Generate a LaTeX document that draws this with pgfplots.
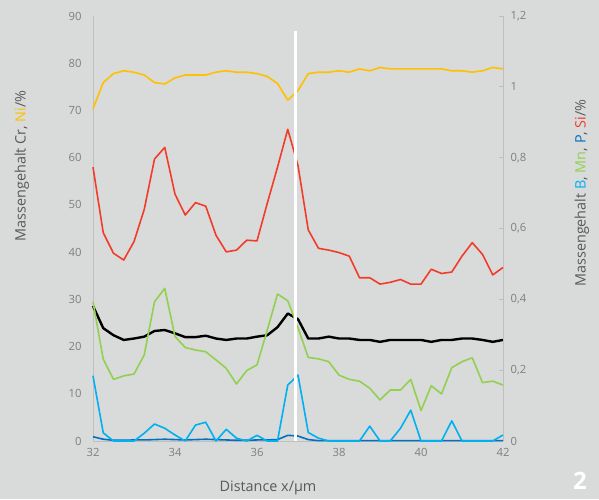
\documentclass[border=0pt]{standalone}
\usepackage{pgfplots}
\pgfplotsset{compat=1.18}
\usepackage{pgfplotstable}
\usepackage{fontspec}
\setmainfont{Open Sans}
\definecolor{bg}{HTML}{D9DADA}
\definecolor{axisgray}{HTML}{BFBFBF}
\definecolor{tickgray}{HTML}{7F7F7F}
\definecolor{labgray}{HTML}{595959}
\definecolor{niY}{HTML}{FFC000}
\definecolor{siR}{HTML}{F23C2A}
\definecolor{mnG}{HTML}{92D050}
\definecolor{bB}{HTML}{00B0F0}
\definecolor{pB}{HTML}{0070C0}

% x  Cr  Ni  (left axis, %)
\pgfplotstableread{
x Cr Ni
32.00 28.6 70.4
32.25 23.9 75.9
32.50 22.4 77.8
32.75 21.4 78.4
33.00 21.7 78.1
33.25 22.1 77.5
33.50 23.3 75.9
33.75 23.5 75.6
34.00 22.8 76.9
34.25 22.0 77.5
34.50 22.0 77.5
34.75 22.3 77.5
35.00 21.7 78.1
35.25 21.4 78.4
35.50 21.7 78.1
35.75 21.7 78.1
36.00 22.1 77.8
36.25 22.4 77.2
36.50 24.1 75.7
36.75 27.0 72.2
37.00 25.8 74.2
37.25 21.7 77.8
37.50 21.7 78.1
37.75 22.1 78.1
38.00 21.7 78.4
38.25 21.7 78.1
38.50 21.4 78.8
38.75 21.4 78.4
39.00 21.0 79.1
39.25 21.4 78.8
39.50 21.4 78.8
39.75 21.4 78.8
40.00 21.4 78.8
40.25 21.0 78.8
40.50 21.4 78.8
40.75 21.4 78.4
41.00 21.7 78.4
41.25 21.7 78.1
41.50 21.4 78.4
41.75 21.0 79.1
42.00 21.4 78.8
}\left

% x  Si  Mn  B  P  (right axis, %)
\pgfplotstableread{
x Si Mn B P
32.00 0.773 0.393 0.184 0.012
32.25 0.588 0.231 0.023 0.005
32.50 0.530 0.174 0.000 0.002
32.75 0.511 0.184 0.000 0.002
33.00 0.563 0.189 0.000 0.003
33.25 0.654 0.243 0.022 0.003
33.50 0.796 0.393 0.048 0.004
33.75 0.829 0.431 0.036 0.005
34.00 0.697 0.295 0.017 0.004
34.25 0.638 0.264 0.000 0.003
34.50 0.673 0.257 0.045 0.004
34.75 0.663 0.252 0.053 0.005
35.00 0.581 0.229 0.000 0.004
35.25 0.534 0.205 0.033 0.003
35.50 0.539 0.161 0.008 0.002
35.75 0.567 0.199 0.000 0.002
36.00 0.565 0.215 0.016 0.003
36.25 0.671 0.313 0.000 0.003
36.50 0.773 0.415 0.000 0.004
36.75 0.880 0.396 0.158 0.016
37.00 0.778 0.320 0.186 0.014
37.25 0.596 0.236 0.024 0.004
37.50 0.544 0.232 0.008 0.001
37.75 0.539 0.224 0.000 0.001
38.00 0.532 0.186 0.000 0.001
38.25 0.522 0.174 0.000 0.001
38.50 0.461 0.169 0.000 0.001
38.75 0.461 0.149 0.042 0.001
39.00 0.443 0.116 0.000 0.001
39.25 0.448 0.144 0.000 0.001
39.50 0.456 0.144 0.036 0.001
39.75 0.443 0.174 0.087 0.001
40.00 0.443 0.086 0.000 0.001
40.25 0.485 0.156 0.000 0.001
40.50 0.473 0.133 0.000 0.001
40.75 0.477 0.207 0.057 0.001
41.00 0.522 0.224 0.000 0.001
41.25 0.560 0.235 0.000 0.001
41.50 0.527 0.165 0.000 0.001
41.75 0.469 0.169 0.000 0.001
42.00 0.490 0.158 0.017 0.001
}\right

\begin{document}
\begin{tikzpicture}
\fill[bg] (-93pt,-58pt) rectangle (506pt,441pt);
\begin{axis}[
  at={(0,0)}, anchor=south west,
  scale only axis, width=410pt, height=425pt,
  xmin=32, xmax=42, ymin=0, ymax=90,
  axis y line*=left, axis x line*=bottom,
  clip=false,
  xtick={32,34,36,38,40,42},
  ytick={0,10,20,30,40,50,60,70,80,90},
  major tick length=0pt,
  axis line style={draw=axisgray, line width=0.8pt},
  tick label style={font=\fontsize{11.3}{13}\selectfont, text=tickgray},
  yticklabel style={xshift=-8pt},
  xticklabel style={yshift=-4pt},
  /pgf/number format/assume math mode=true,
]
\addplot[black, line width=2.4pt, line join=round] table[x=x, y=Cr] {\left};
\addplot[niY, line width=1.6pt, line join=round] table[x=x, y=Ni] {\left};
\end{axis}
\begin{axis}[
  at={(0,0)}, anchor=south west,
  scale only axis, width=410pt, height=425pt,
  xmin=32, xmax=42, ymin=0, ymax=1.2,
  axis y line*=right, axis x line=none,
  clip=false,
  ytick={0,0.2,0.4,0.6,0.8,1,1.2},
  yticklabels={0,{0,2},{0,4},{0,6},{0,8},1,{1,2}},
  major tick length=4pt, tick align=inside,
  ytick style={draw=axisgray, line width=0.8pt},
  axis line style={draw=axisgray, line width=0.8pt},
  tick label style={font=\fontsize{11.3}{13}\selectfont, text=tickgray},
  yticklabel style={xshift=4pt},
]
\addplot[siR, line width=1.6pt, line join=round] table[x=x, y=Si] {\right};
\addplot[mnG, line width=1.6pt, line join=round] table[x=x, y=Mn] {\right};
\addplot[pB, line width=1.6pt, line join=round] table[x=x, y=P] {\right};
\addplot[bB, line width=1.6pt, line join=round] table[x=x, y=B] {\right};
\addplot[white, line width=3pt] coordinates {(36.93,0) (36.93,1.158)};
\end{axis}
\node[rotate=90, font=\fontsize{14.4}{16}\selectfont, text=labgray] at (-71pt,275pt)
  {Massengehalt Cr, \textcolor{niY}{Ni}/\%};
\node[rotate=90, font=\fontsize{14.4}{16}\selectfont, text=labgray] at (489pt,248pt)
  {Massengehalt \textcolor{bB}{B}, \textcolor{mnG}{Mn}, \textcolor{pB}{P}, \textcolor{siR}{Si}/\%};
\node[font=\fontsize{14.4}{16}\selectfont, text=labgray] at (175pt,-47pt) {Distance x/µm};
\node[font=\bfseries\fontsize{24}{26}\selectfont, text=white] at (487pt,-40pt) {2};
\pgfresetboundingbox
\path (-93pt,-58pt) rectangle (506pt,441pt);
\end{tikzpicture}
\end{document}
